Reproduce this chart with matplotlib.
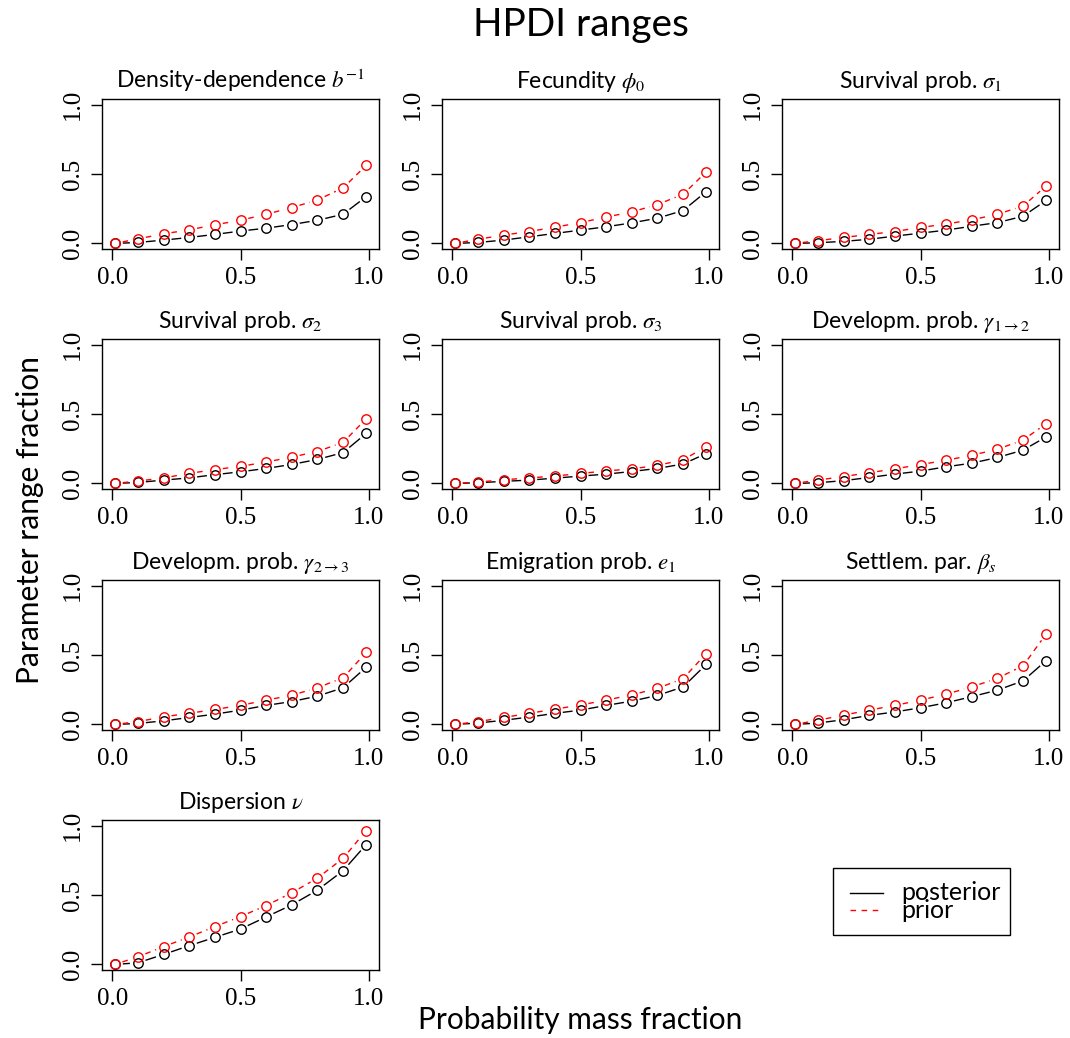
import numpy as np
import matplotlib
matplotlib.use("Agg")
import matplotlib.pyplot as plt
from matplotlib.lines import Line2D
from matplotlib.patches import Rectangle

plt.rcParams['font.family'] = ['Lato', 'DejaVu Sans']
plt.rcParams['mathtext.fontset'] = 'stix'

# probability mass fractions (same for every parameter)
mass = [0.01, 0.1, 0.2, 0.3, 0.4, 0.5, 0.6, 0.7, 0.8, 0.9, 0.99]

titles = [
    r'Density-dependence $b^{-1}$',
    r'Fecundity $\phi_0$',
    r'Survival prob. $\sigma_1$',
    r'Survival prob. $\sigma_2$',
    r'Survival prob. $\sigma_3$',
    r'Developm. prob. $\gamma_{1\rightarrow 2}$',
    r'Developm. prob. $\gamma_{2\rightarrow 3}$',
    r'Emigration prob. $e_1$',
    r'Settlem. par. $\beta_s$',
    r'Dispersion $\nu$',
]

# HPDI width as fraction of the parameter range
posterior = [
    [0.0, 0.007, 0.024, 0.043, 0.065, 0.089, 0.110, 0.136, 0.167, 0.210, 0.337],
    [0.0, 0.007, 0.024, 0.048, 0.072, 0.096, 0.120, 0.148, 0.182, 0.237, 0.373],
    [0.0, 0.005, 0.015, 0.030, 0.053, 0.074, 0.096, 0.124, 0.150, 0.196, 0.310],
    [0.0, 0.007, 0.024, 0.040, 0.063, 0.084, 0.108, 0.137, 0.173, 0.222, 0.360],
    [0.0, 0.005, 0.015, 0.024, 0.038, 0.053, 0.067, 0.086, 0.108, 0.140, 0.215],
    [0.0, 0.005, 0.020, 0.043, 0.067, 0.089, 0.120, 0.146, 0.187, 0.240, 0.335],
    [0.0, 0.007, 0.026, 0.050, 0.074, 0.103, 0.137, 0.165, 0.204, 0.264, 0.412],
    [0.0, 0.010, 0.030, 0.053, 0.080, 0.103, 0.137, 0.168, 0.209, 0.270, 0.432],
    [0.0, 0.010, 0.034, 0.065, 0.090, 0.120, 0.156, 0.200, 0.247, 0.314, 0.460],
    [0.0, 0.012, 0.072, 0.135, 0.195, 0.255, 0.342, 0.429, 0.535, 0.675, 0.863],
]
prior = [
    [0.0, 0.033, 0.069, 0.098, 0.134, 0.167, 0.210, 0.258, 0.313, 0.400, 0.562],
    [0.0, 0.030, 0.060, 0.086, 0.117, 0.150, 0.190, 0.227, 0.280, 0.354, 0.514],
    [0.0, 0.020, 0.043, 0.065, 0.086, 0.115, 0.140, 0.170, 0.210, 0.270, 0.414],
    [0.0, 0.017, 0.040, 0.072, 0.100, 0.123, 0.154, 0.190, 0.230, 0.296, 0.465],
    [0.0, 0.010, 0.026, 0.040, 0.053, 0.072, 0.090, 0.105, 0.130, 0.170, 0.265],
    [0.0, 0.024, 0.050, 0.077, 0.105, 0.136, 0.167, 0.203, 0.246, 0.313, 0.430],
    [0.0, 0.020, 0.055, 0.080, 0.108, 0.137, 0.175, 0.210, 0.264, 0.336, 0.518],
    [0.0, 0.020, 0.050, 0.080, 0.110, 0.140, 0.175, 0.213, 0.260, 0.330, 0.510],
    [0.0, 0.030, 0.067, 0.103, 0.137, 0.175, 0.218, 0.270, 0.333, 0.422, 0.652],
    [0.0, 0.055, 0.128, 0.198, 0.272, 0.345, 0.424, 0.516, 0.622, 0.764, 0.964],
]

W, H = 1070, 1038
fig = plt.figure(figsize=(W / 100, H / 100), dpi=100)

col_left = [102, 442, 782]
row_top = [99, 339, 580, 820]
pw, ph = 277, 150
lim = (-0.04, 1.04)


def points_and_gaps(ax, x, y, color, dashed):
    # R-style type="b": open points with segments that stop short of them
    gap = 8.0  # pixels
    sx = pw / (lim[1] - lim[0])
    sy = ph / (lim[1] - lim[0])
    x = np.asarray(x, float)
    y = np.asarray(y, float)
    for k in range(len(x) - 1):
        dx = (x[k + 1] - x[k]) * sx
        dy = (y[k + 1] - y[k]) * sy
        L = np.hypot(dx, dy)
        if L <= 2 * gap + 1:
            continue
        f = gap / L
        xs = [x[k] + f * (x[k + 1] - x[k]), x[k + 1] - f * (x[k + 1] - x[k])]
        ys = [y[k] + f * (y[k + 1] - y[k]), y[k + 1] - f * (y[k + 1] - y[k])]
        if dashed:
            ax.plot(xs, ys, color=color, lw=1.0,
                    dashes=(4, 3.5), dash_capstyle='butt')
        else:
            ax.plot(xs, ys, color=color, lw=1.0, solid_capstyle='butt')
    ax.plot(x, y, 'o', ms=6.8, mfc='none', mec=color, mew=1.0, ls='none')


tick_font = dict(family='Liberation Serif', size=18)

for i, title in enumerate(titles):
    r, c = divmod(i, 3)
    left = col_left[c] / W
    bottom = 1 - (row_top[r] + ph) / H
    ax = fig.add_axes([left, bottom, pw / W, ph / H])
    ax.set_xlim(*lim)
    ax.set_ylim(*lim)
    points_and_gaps(ax, mass, posterior[i], 'black', False)
    points_and_gaps(ax, mass, prior[i], 'red', True)
    ax.set_xticks([0.0, 0.5, 1.0])
    ax.set_yticks([0.0, 0.5, 1.0])
    ax.set_xticklabels(['0.0', '0.5', '1.0'], fontdict=tick_font)
    ax.set_yticklabels(['0.0', '0.5', '1.0'], fontdict=tick_font,
                       rotation=90, va='center')
    ax.tick_params(length=8, width=1, pad=5)
    for s in ax.spines.values():
        s.set_linewidth(1.0)
    ax.set_title(title, fontsize=16.5, pad=8)

fig.text(581 / W, 1 - 25 / H, 'HPDI ranges', ha='center', va='center', fontsize=28)
fig.text(580 / W, 1 - 1020 / H, 'Probability mass fraction',
         ha='center', va='center', fontsize=21.5)
fig.text(30 / W, 1 - 520 / H, 'Parameter range fraction',
         ha='center', va='center', rotation=90, fontsize=21.5)

# legend box
fig.patches.append(Rectangle((833 / W, 1 - 935 / H), 177 / W, 67 / H,
                             transform=fig.transFigure, fill=False,
                             ec='black', lw=1.0))
fig.lines.append(Line2D([850 / W, 883 / W], [1 - 893 / H] * 2,
                        transform=fig.transFigure, color='black', lw=1.0))
fig.lines.append(Line2D([850 / W, 883 / W], [1 - 910 / H] * 2,
                        transform=fig.transFigure, color='red', lw=1.0,
                        dashes=(4, 4)))
fig.text(901 / W, 1 - 892 / H, 'posterior', ha='left', va='center', fontsize=18)
fig.text(901 / W, 1 - 910 / H, 'prior', ha='left', va='center', fontsize=18)

fig.savefig('out.png', dpi=100)
